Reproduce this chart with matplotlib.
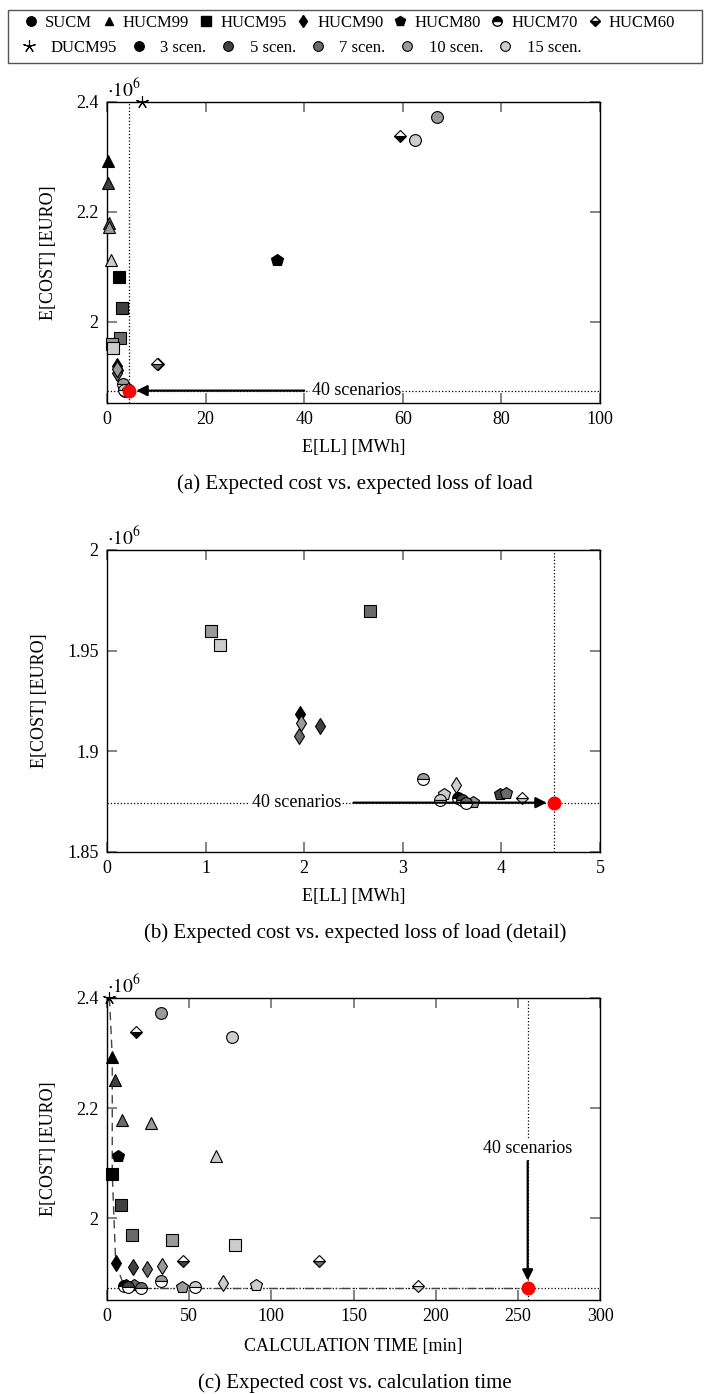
import numpy as np
import matplotlib
matplotlib.use('Agg')
import matplotlib.pyplot as plt
from matplotlib.lines import Line2D
from matplotlib.patches import Rectangle

plt.rcParams['font.family'] = ['Liberation Serif', 'DejaVu Serif']
plt.rcParams['mathtext.fontset'] = 'stix'

nan = np.nan

# scenario counts: 3, 5, 7, 10, 15 -- cost in 1e6 EURO, E[LL] in MWh, time in min
SCEN_LABELS = ['3 scen.', '5 scen.', '7 scen.', '10 scen.', '15 scen.']
METHODS = ['SUCM', 'HUCM99', 'HUCM95', 'HUCM90', 'HUCM80', 'HUCM70', 'HUCM60']

sucm_ll = [nan, nan, nan, 67.0, 62.5]
sucm_cost = [nan, nan, nan, 2.372, 2.330]
sucm_time = [nan, nan, nan, 32.6, 76.3]

hucm99_ll = [0.3, 0.3, 0.4, 0.4, 0.8]
hucm99_cost = [2.293, 2.252, 2.179, 2.173, 2.113]
hucm99_time = [3.2, 4.9, 9.3, 26.5, 66.6]

hucm95_ll = [2.4, 3.1, 2.665, 1.055, 1.145]
hucm95_cost = [2.081, 2.025, 1.9698, 1.960, 1.9527]
hucm95_time = [3.2, 8.3, 15.0, 39.7, 78.1]

hucm90_ll = [1.953, 2.16, 1.949, 1.971, 3.54]
hucm90_cost = [1.9186, 1.9126, 1.9075, 1.9141, 1.8833]
hucm90_time = [5.3, 16.0, 24.5, 33.6, 70.4]

hucm80_ll = [34.4, 3.99, 4.05, 3.71, 3.42]
hucm80_cost = [2.1127, 1.8788, 1.8794, 1.8750, 1.8788]
hucm80_time = [6.5, 11.5, 16.5, 45.5, 90.5]

hucm70_ll = [3.56, 3.60, 3.64, 3.20, 3.38]
hucm70_cost = [1.8766, 1.8760, 1.8742, 1.8861, 1.8758]
hucm70_time = [10.5, 13.0, 20.5, 32.6, 53.4]

hucm60_ll = [59.5, 10.3, 10.1, nan, 4.21]
hucm60_cost = [2.339, 1.923, 1.9235, nan, 1.8768]
hucm60_time = [17.5, 46.0, 129.0, nan, 189.0]

ducm95_ll = 7.0
ducm95_cost = 2.4
ducm95_time = 1.5

# SUCM with 40 scenarios (reference)
ref_ll = 4.53
ref_cost = 1.8745
ref_time = 256.0

# lower envelope in panel (c)
frontier_time = [1.5, 3.2, 3.2, 5.3, 10.5]
frontier_cost = [2.4, 2.293, 2.081, 1.9186, 1.8766]

DATA = {
    'SUCM': (sucm_ll, sucm_cost, sucm_time),
    'HUCM99': (hucm99_ll, hucm99_cost, hucm99_time),
    'HUCM95': (hucm95_ll, hucm95_cost, hucm95_time),
    'HUCM90': (hucm90_ll, hucm90_cost, hucm90_time),
    'HUCM80': (hucm80_ll, hucm80_cost, hucm80_time),
    'HUCM70': (hucm70_ll, hucm70_cost, hucm70_time),
    'HUCM60': (hucm60_ll, hucm60_cost, hucm60_time),
}

GRAYS = ['#000000', '#404040', '#6a6a6a', '#9a9a9a', '#cdcdcd']
STYLES = {
    'SUCM': dict(marker='o', markersize=8.5),
    'HUCM99': dict(marker='^', markersize=8),
    'HUCM95': dict(marker='s', markersize=8.5),
    'HUCM90': dict(marker='d', markersize=8),
    'HUCM80': dict(marker='p', markersize=9),
    'HUCM70': dict(marker='o', markersize=8.5, fillstyle='top', markerfacecoloralt='white'),
    'HUCM60': dict(marker='D', markersize=6.5, fillstyle='bottom', markerfacecoloralt='white'),
}
STAR = dict(marker=(5, 2, 0), markersize=9, color='black', mew=0.8, ls='none')
TICK_GRAY = '#7a7a7a'
FS = 13


def draw_points(ax, col, xlim, ylim):
    for m in METHODS:
        xs, cost = DATA[m][col], DATA[m][1]
        for i in range(5):
            x, y = xs[i], cost[i]
            if np.isnan(y) or not (xlim[0] <= x <= xlim[1] and ylim[0] <= y <= ylim[1]):
                continue
            ax.plot(x, y, ls='none', markerfacecolor=GRAYS[i], markeredgecolor='black',
                    mew=0.8, clip_on=False, zorder=4, **STYLES[m])


def style_axes(ax, xlim, ylim, xticks, yticks, ylabels):
    ax.set_xlim(xlim)
    ax.set_ylim(ylim)
    ax.set_xticks(xticks)
    ax.set_yticks(yticks, labels=ylabels)
    ax.tick_params(direction='in', length=7, width=1.3, color=TICK_GRAY,
                   top=True, right=True, labelsize=FS, pad=6)
    for s in ax.spines.values():
        s.set_linewidth(1.0)
    ax.set_ylabel('E[COST] [EURO]', fontsize=FS, labelpad=14)
    ax.text(0.0, 1.005, r'$\cdot 10^{6}$', transform=ax.transAxes, ha='left', va='bottom', fontsize=14)


fig = plt.figure(figsize=(7.1, 13.94), dpi=100)
left, width = 107 / 710, 493 / 710

# ---- legend box
fig.patches.append(Rectangle((8 / 710, 1 - 63 / 1394), 694 / 710, 53 / 1394,
                             transform=fig.transFigure, fill=False, edgecolor='#555555', lw=1.0))
LEG_FS = 12
row1 = []
for m in METHODS:
    st = dict(STYLES[m])
    st['markersize'] = st['markersize'] * 0.8
    row1.append(Line2D([], [], ls='none', markerfacecolor='black', markeredgecolor='black', **st))
fig.legend(row1, METHODS, loc='center left', bbox_to_anchor=(16 / 710, 1 - 23 / 1394), ncol=7,
           frameon=False, fontsize=LEG_FS, handlelength=0.8, handletextpad=0.45, columnspacing=0.6, borderpad=0)
row2 = [Line2D([], [], **STAR)] + [Line2D([], [], ls='none', marker='o', markersize=7,
                                          markerfacecolor=g, markeredgecolor='black', mew=0.8) for g in GRAYS]
fig.legend(row2, ['DUCM95'] + SCEN_LABELS, loc='center left', bbox_to_anchor=(14 / 710, 1 - 48 / 1394), ncol=6,
           frameon=False, fontsize=LEG_FS, handlelength=0.8, handletextpad=0.9, columnspacing=0.9, borderpad=0)

arrow = dict(arrowstyle='-|>', lw=1.6, color='black', mutation_scale=16, shrinkA=0, shrinkB=5)

# ---- (a)
ax = fig.add_axes([left, 1 - 403 / 1394, width, 301 / 1394])
xl, yl = (0, 100), (1.852, 2.4)
ax.axvline(ref_ll, color='black', ls=':', lw=0.9, zorder=1)
ax.axhline(ref_cost, color='black', ls=':', lw=0.9, zorder=1)
draw_points(ax, 0, xl, yl)
ax.plot(ducm95_ll, ducm95_cost, clip_on=False, zorder=5, **STAR)
ax.annotate('', xy=(ref_ll, ref_cost), xytext=(40, ref_cost), arrowprops=arrow, zorder=5)
ax.text(41.5, ref_cost, '40 scenarios', fontsize=FS, ha='left', va='center',
        bbox=dict(fc='white', ec='none', pad=1), zorder=5)
ax.plot(ref_ll, ref_cost, 'o', color='red', ms=9, clip_on=False, zorder=6)
style_axes(ax, xl, yl, [0, 20, 40, 60, 80, 100], [2.0, 2.2, 2.4], ['2', '2.2', '2.4'])
ax.set_xlabel('E[LL] [MWh]', fontsize=FS, labelpad=8)
fig.text(0.5, 1 - 484 / 1394, '(a) Expected cost vs. expected loss of load', ha='center', va='center', fontsize=15)

# ---- (b)
ax = fig.add_axes([left, 1 - 852 / 1394, width, 302 / 1394])
xl, yl = (0, 5), (1.85, 2.0)
ax.axvline(ref_ll, color='black', ls=':', lw=0.9, zorder=1)
ax.axhline(ref_cost, color='black', ls=':', lw=0.9, zorder=1)
draw_points(ax, 0, xl, yl)
ax.annotate('', xy=(ref_ll, ref_cost), xytext=(2.5, ref_cost), arrowprops=arrow, zorder=5)
ax.text(1.92, ref_cost, '40 scenarios', fontsize=FS, ha='center', va='center',
        bbox=dict(fc='white', ec='none', pad=1), zorder=5)
ax.plot(ref_ll, ref_cost, 'o', color='red', ms=9, clip_on=False, zorder=6)
style_axes(ax, xl, yl, [0, 1, 2, 3, 4, 5], [1.85, 1.9, 1.95, 2.0], ['1.85', '1.9', '1.95', '2'])
ax.set_xlabel('E[LL] [MWh]', fontsize=FS, labelpad=8)
fig.text(0.5, 1 - 933 / 1394, '(b) Expected cost vs. expected loss of load (detail)', ha='center', va='center', fontsize=15)

# ---- (c)
ax = fig.add_axes([left, 1 - 1300 / 1394, width, 302 / 1394])
xl, yl = (0, 300), (1.852, 2.4)
ax.axvline(ref_time, color='black', ls=':', lw=0.9, zorder=1)
ax.axhline(ref_cost, color='black', ls=':', lw=0.9, zorder=1)
ax.plot(frontier_time, frontier_cost, color='#444444', ls=(0, (6, 4)), lw=1.0, zorder=2)
ax.plot([frontier_time[-1], ref_time], [ref_cost, ref_cost], color='#444444',
        ls=(0, (6, 3, 1, 3)), lw=1.0, zorder=2)
draw_points(ax, 2, xl, yl)
ax.plot(ducm95_time, ducm95_cost, clip_on=False, zorder=5, **STAR)
ax.annotate('', xy=(ref_time, ref_cost), xytext=(ref_time, 2.104), arrowprops=arrow, zorder=5)
ax.text(ref_time, 2.127, '40 scenarios', fontsize=FS, ha='center', va='center',
        bbox=dict(fc='white', ec='none', pad=1), zorder=5)
ax.plot(ref_time, ref_cost, 'o', color='red', ms=9, clip_on=False, zorder=6)
style_axes(ax, xl, yl, [0, 50, 100, 150, 200, 250, 300], [2.0, 2.2, 2.4], ['2', '2.2', '2.4'])
ax.set_xlabel('CALCULATION TIME [min]', fontsize=FS, labelpad=9)
fig.text(0.5, 1 - 1383 / 1394, '(c) Expected cost vs. calculation time', ha='center', va='center', fontsize=15)

fig.savefig('out.png', dpi=100)
